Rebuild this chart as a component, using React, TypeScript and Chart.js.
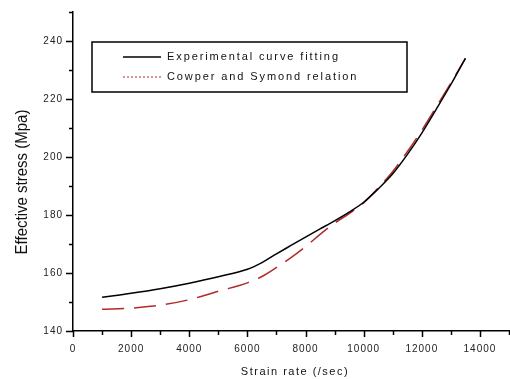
import React, { useEffect, useRef } from "react";
import { Chart, registerables } from "chart.js";

Chart.register(...registerables);

const strainRate = [1000, 2000, 3000, 4000, 5000, 6000, 6500, 7000, 7500, 8000, 8500, 9000, 9500, 10000, 10500, 11000, 11500, 12000, 12500, 13000, 13500];
const experimental = [151.6, 153.0, 154.6, 156.5, 158.7, 161.3, 163.6, 166.6, 169.5, 172.4, 175.2, 178.0, 181.0, 184.4, 189.0, 194.2, 200.8, 208.2, 216.5, 225.0, 234.0];
const cowper = [147.5, 147.9, 148.9, 150.8, 153.7, 156.6, 158.8, 161.9, 165.3, 169.1, 173.3, 177.2, 180.5, 184.2, 189.3, 195.0, 201.8, 209.2, 217.3, 225.5, 234.0];
const xMajorLabels = ["0", "2000", "4000", "6000", "8000", "10000", "12000", "14000"];
const yMajorLabels = ["140", "160", "180", "200", "220", "240"];
const seriesNames = ["Experimental curve fitting", "Cowper and Symond relation"];
const xTitle = "Strain rate (/sec)";
const yTitle = "Effective stress (Mpa)";

const FONT = '"Liberation Sans", Arial, sans-serif';

export default function App() {
  const ref = useRef<HTMLCanvasElement | null>(null);

  useEffect(() => {
    const canvas = ref.current;
    if (!canvas) return;

    const decorPlugin = {
      id: "decor",
      beforeDraw(chart: any) {
        const ctx = chart.ctx;
        ctx.save();
        ctx.fillStyle = "#ffffff";
        ctx.fillRect(0, 0, chart.width, chart.height);
        ctx.restore();
        (ctx as any).letterSpacing = "1px";
      },
      afterDraw(chart: any) {
        const ctx = chart.ctx;
        const area = chart.chartArea;
        const xs = chart.scales.x;
        const ys = chart.scales.y;
        ctx.save();
        // tick marks
        ctx.strokeStyle = "#000";
        ctx.lineWidth = 1.5;
        ctx.beginPath();
        xs.ticks.forEach((t: any) => {
          const px = Math.round(xs.getPixelForValue(t.value)) + 0.5;
          const len = t.value % 2000 === 0 ? 6 : 4;
          ctx.moveTo(px, area.bottom);
          ctx.lineTo(px, area.bottom + len);
        });
        ys.ticks.forEach((t: any) => {
          const py = Math.round(ys.getPixelForValue(t.value)) + 0.5;
          const len = t.value % 20 === 0 ? 7 : 4;
          ctx.moveTo(area.left, py);
          ctx.lineTo(area.left - len, py);
        });
        ctx.stroke();

        // axis titles
        ctx.fillStyle = "#111";
        (ctx as any).letterSpacing = "1.5px";
        ctx.font = "11px " + FONT;
        ctx.textAlign = "center";
        ctx.textBaseline = "middle";
        ctx.fillText(xTitle, (area.left + area.right) / 2 + 4, 372);

        (ctx as any).letterSpacing = "0px";
        ctx.save();
        ctx.translate(22, 182);
        ctx.rotate(-Math.PI / 2);
        ctx.scale(1, 1.15);
        ctx.font = "15px " + FONT;
        ctx.fillText(yTitle, 0, 0);
        ctx.restore();

        // legend
        const bx = area.left + 19;
        const by = area.top + 30;
        const bw = 315;
        const bh = 50;
        ctx.fillStyle = "#fff";
        ctx.fillRect(bx, by, bw, bh);
        ctx.strokeStyle = "#000";
        ctx.lineWidth = 1.5;
        ctx.strokeRect(bx, by, bw, bh);

        const sx0 = bx + 31;
        const sx1 = bx + 69;
        const r1 = by + 15;
        const r2 = by + 35;
        ctx.lineWidth = 1.3;
        ctx.beginPath();
        ctx.moveTo(sx0, r1);
        ctx.lineTo(sx1, r1);
        ctx.stroke();
        ctx.strokeStyle = "#b22a2a";
        ctx.lineWidth = 1;
        ctx.setLineDash([2, 2]);
        ctx.beginPath();
        ctx.moveTo(sx0, r2);
        ctx.lineTo(sx1, r2);
        ctx.stroke();
        ctx.setLineDash([]);

        ctx.fillStyle = "#111";
        ctx.font = "11px " + FONT;
        ctx.textAlign = "left";
        ctx.textBaseline = "middle";
        (ctx as any).letterSpacing = "1.9px";
        ctx.fillText(seriesNames[0], bx + 75, r1);
        ctx.fillText(seriesNames[1], bx + 75, r2);
        (ctx as any).letterSpacing = "0px";
        ctx.restore();
      },
    };

    const chart = new Chart(canvas, {
      type: "line",
      data: {
        datasets: [
          {
            label: seriesNames[0],
            data: strainRate.map((x, i) => ({ x, y: experimental[i] })),
            borderColor: "#000000",
            borderWidth: 1.5,
            pointRadius: 0,
            cubicInterpolationMode: "monotone",
            fill: false,
          },
          {
            label: seriesNames[1],
            data: strainRate.map((x, i) => ({ x, y: cowper[i] })),
            borderColor: "#b22a2a",
            borderWidth: 1.5,
            borderDash: [22, 10],
            pointRadius: 0,
            cubicInterpolationMode: "monotone",
            fill: false,
          },
        ],
      },
      options: {
        animation: false,
        responsive: false,
        maintainAspectRatio: false,
        layout: { padding: { left: 0, right: 1, top: 12, bottom: 0 } },
        plugins: {
          legend: { display: false },
          tooltip: { enabled: false },
          title: { display: false },
        },
        scales: {
          x: {
            type: "linear",
            min: 0,
            max: 15000,
            grid: { display: false, drawTicks: false },
            border: { display: true, color: "#000", width: 1.5 },
            afterFit(scale: any) {
              scale.height = 48;
              scale.paddingLeft = 0;
              scale.paddingRight = 0;
            },
            ticks: {
              stepSize: 1000,
              autoSkip: false,
              maxRotation: 0,
              padding: 12,
              color: "#222",
              font: { size: 10, family: FONT },
              callback(value: any) {
                const v = Number(value);
                if (v % 2000 !== 0) return "";
                return xMajorLabels[v / 2000] ?? "";
              },
            },
          },
          y: {
            type: "linear",
            min: 140,
            max: 250,
            grid: { display: false, drawTicks: false },
            border: { display: true, color: "#000", width: 1.5 },
            afterFit(scale: any) {
              scale.width = 73;
              scale.paddingTop = 0;
              scale.paddingBottom = 0;
            },
            ticks: {
              stepSize: 10,
              autoSkip: false,
              padding: 10,
              color: "#222",
              font: { size: 10, family: FONT },
              callback(value: any) {
                const v = Number(value);
                if ((v - 140) % 20 !== 0) return "";
                return yMajorLabels[(v - 140) / 20] ?? "";
              },
            },
          },
        },
      },
      plugins: [decorPlugin],
    } as any);

    return () => chart.destroy();
  }, []);

  return (
    <div style={{ position: "absolute", left: 0, top: 0, width: 510, height: 379 }}>
      <canvas ref={ref} width={510} height={379} style={{ display: "block", width: 510, height: 379 }} />
    </div>
  );
}
